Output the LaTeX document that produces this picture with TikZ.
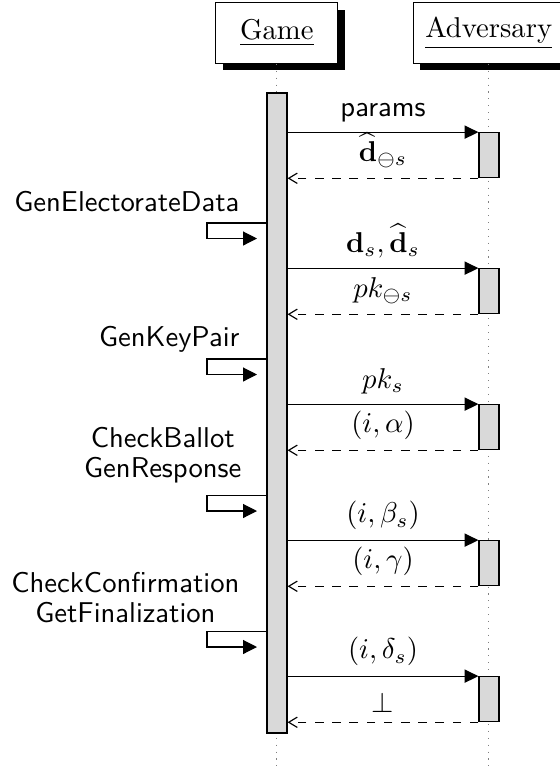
\documentclass[tikz,border=0pt]{standalone}
\usetikzlibrary{arrows.meta,shadows}
\begin{document}
\begin{tikzpicture}[x=0.349pt,y=-0.349pt,
  thread/.style={draw, fill=white, inner sep=0pt, minimum height=21.15pt,
    general shadow={fill=black, shadow xshift=2.4pt, shadow yshift=-2.5pt}},
  lifeline/.style={draw=gray, dotted},
  actbar/.style={draw, fill=gray!30, inner sep=0pt, minimum width=7pt},
  callarr/.style={-{Triangle[length=4.8pt,width=4.6pt]}},
  retarr/.style={dashed, -{Straight Barb[length=3pt,width=3.6pt]}},
  msg/.style={midway, above},
  sidelbl/.style={font=\sffamily, align=center, anchor=south east, inner sep=0pt, text depth=0pt},
  selfarr/.style={-{Triangle[length=4.8pt,width=4.8pt]}}
]
\useasboundingbox (0,0) rectangle (560,769);
\clip (0,0) rectangle (560,769);

% threads
\node[thread, minimum width=42.5pt] (game) at (276.8,33) {\underline{Game}};
\node[thread, minimum width=52.6pt] (adv) at (488.7,33) {\underline{Adversary}};

% lifelines
\coordinate (gend) at (276.8,769);
\coordinate (aend) at (488.7,769);
\draw[lifeline] (game.south) -- (gend);
\draw[lifeline] (adv.south) -- (aend);

% activation bars
\node[actbar, minimum height=223.4pt] (gbar) at (277,413) {};
\node[actbar, minimum height=15.7pt] (ab1) at (489,155.2) {};
\node[actbar, minimum height=15.7pt] (ab2) at (489,291.2) {};
\node[actbar, minimum height=15.7pt] (ab3) at (489,427.2) {};
\node[actbar, minimum height=15.7pt] (ab4) at (489,563.2) {};
\node[actbar, minimum height=15.7pt] (ab5) at (489,699.2) {};

% calls and returns
\draw[callarr] (gbar.east |- ab1.north) -- node[msg] {\textsf{params}} (ab1.north west);
\draw[retarr] (ab1.south west) -- node[msg] {$\widehat{\mathbf{d}}_{\ominus s}$} (gbar.east |- ab1.south);

\draw[callarr] (gbar.east |- ab2.north) -- node[msg] {$\mathbf{d}_s, \widehat{\mathbf{d}}_s$} (ab2.north west);
\draw[retarr] (ab2.south west) -- node[msg] {$pk_{\ominus s}$} (gbar.east |- ab2.south);

\draw[callarr] (gbar.east |- ab3.north) -- node[msg] {$pk_s$} (ab3.north west);
\draw[retarr] (ab3.south west) -- node[msg] {$(i,\alpha)$} (gbar.east |- ab3.south);

\draw[callarr] (gbar.east |- ab4.north) -- node[msg] {$(i,\beta_s)$} (ab4.north west);
\draw[retarr] (ab4.south west) -- node[msg] {$(i,\gamma)$} (gbar.east |- ab4.south);

\draw[callarr] (gbar.east |- ab5.north) -- node[msg] {$(i,\delta_s)$} (ab5.north west);
\draw[retarr] (ab5.south west) -- node[msg] {$\bot$} (gbar.east |- ab5.south);

% incoming self arrows
\coordinate (s1) at (207,223);   \coordinate (t1) at (257,238.5);
\coordinate (s2) at (207,359);   \coordinate (t2) at (257,374.5);
\coordinate (s3) at (207,495.5); \coordinate (t3) at (257,511);
\coordinate (s4) at (207,631.5); \coordinate (t4) at (257,647);
\draw[selfarr] (gbar.west |- s1) -- (s1) |- (t1);
\draw[selfarr] (gbar.west |- s2) -- (s2) |- (t2);
\draw[selfarr] (gbar.west |- s3) -- (s3) |- (t3);
\draw[selfarr] (gbar.west |- s4) -- (s4) |- (t4);

% labels
\node[sidelbl] (l1) at (240,212) {GenElectorateData};
\node[sidelbl] (l2) at (240,347) {GenKeyPair};
\node[sidelbl] (l3) at (242,478) {CheckBallot\\[-1.6pt]GenResponse};
\node[sidelbl] (l4) at (240,623) {CheckConfirmation\\[-1.6pt]GetFinalization};
\end{tikzpicture}
\end{document}
